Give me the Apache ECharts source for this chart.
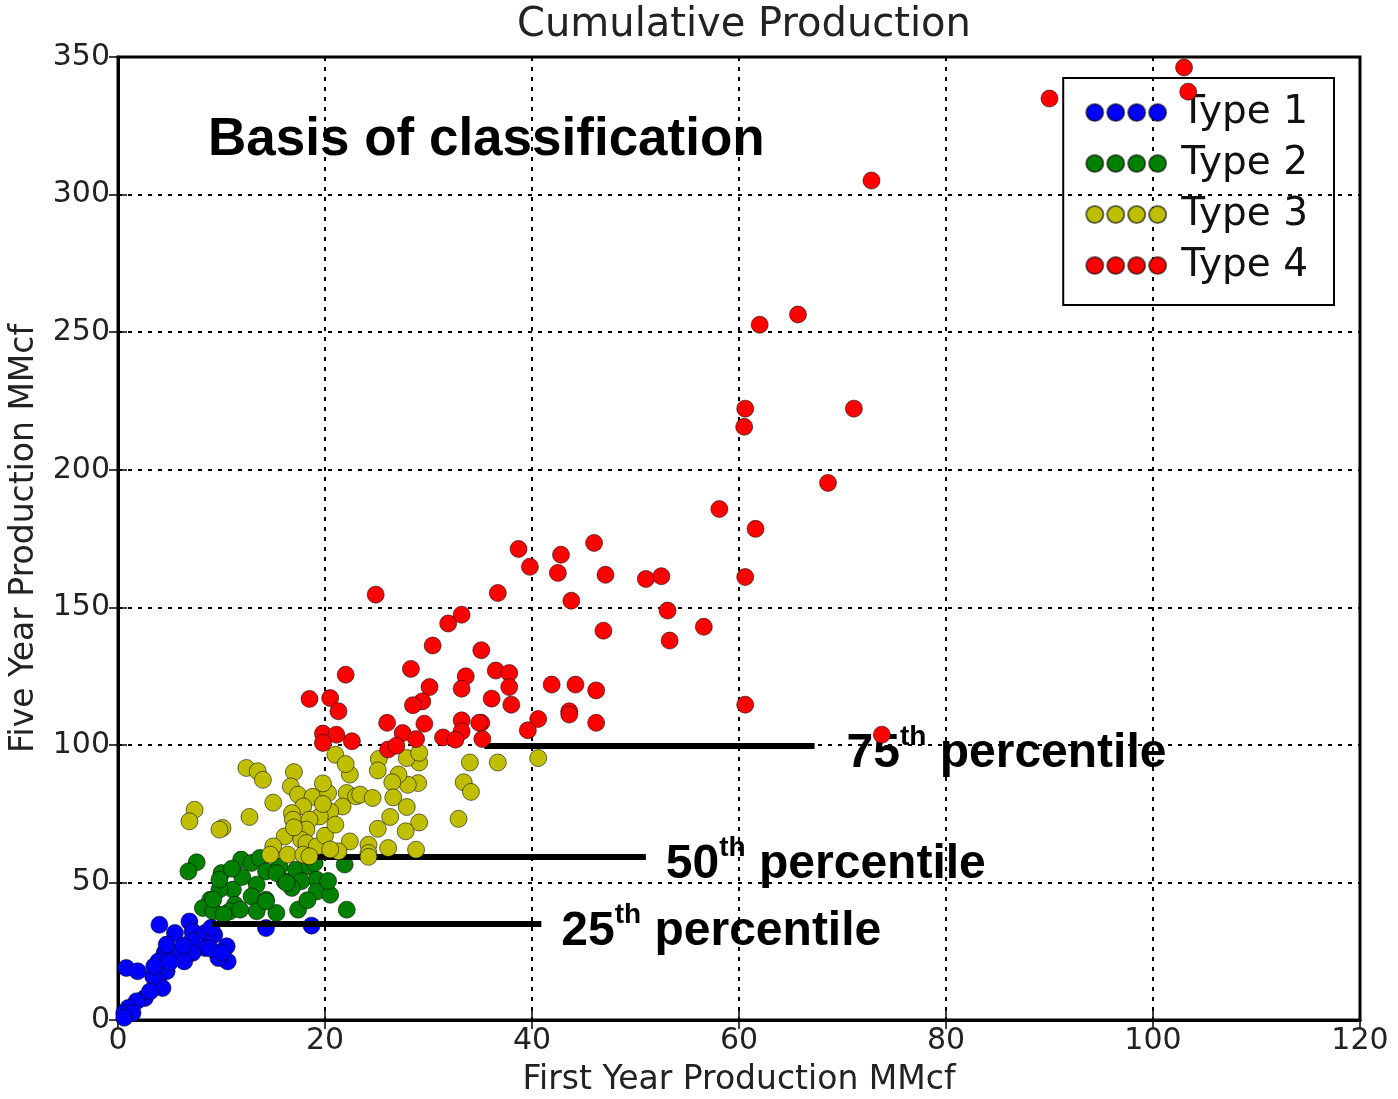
<!DOCTYPE html>
<html>
<head>
<meta charset="utf-8">
<title>Cumulative Production</title>
<script src="https://cdn.jsdelivr.net/npm/echarts@6/dist/echarts.min.js"></script>
<style>
  html, body { margin: 0; padding: 0; background: #fff; }
  #chart { width: 1398px; height: 1099px; }
</style>
</head>
<body>
<div id="chart"></div>
<script>
// [first year MMcf, five year MMcf] per well, grouped by type
const type1 = [
  [4.0,34.6],[5.5,31.6],[6.9,35.8],[7.2,32.2],[8.4,31.6],[9.3,31.0],[10.5,26.8],[10.6,21.3],
  [9.7,22.5],[8.4,26.2],[7.1,28.6],[5.8,24.4],[4.5,24.4],[7.2,24.4],[6.4,21.3],[4.7,17.7],
  [3.9,13.4],[4.3,11.6],[3.4,15.8],[4.7,27.4],[3.9,21.3],[0.8,18.9],[1.9,17.7],[2.6,8.0],
  [1.8,6.8],[1.0,4.4],[0.6,2.5],[1.4,2.5],[3.1,10.4],[3.5,19.5],[14.3,33.4],[18.7,34.3],
  [8.9,26.0],[6.3,27.0],[10.0,24.5],[0.6,0.8],[5.0,21.0],[9.0,33.5]
];
const type2 = [
  [7.6,57.3],[6.8,54.0],[10.0,53.4],[11.9,58.3],[12.9,57.1],[13.7,58.9],[14.3,54.0],[15.6,55.8],
  [17.2,54.6],[18.5,55.8],[19.2,51.0],[17.7,50.4],[16.1,50.4],[16.8,48.0],[19.2,46.7],[20.5,45.5],
  [21.9,56.5],[13.4,49.2],[11.1,47.4],[9.8,47.4],[8.9,43.7],[12.9,44.9],[11.3,41.9],[14.3,43.7],
  [8.2,40.7],[9.2,39.5],[10.8,39.5],[13.4,39.5],[15.3,38.9],[17.4,40.1],[22.1,40.1],[10.2,38.3],
  [19.0,57.1],[15.3,53.4],[12.0,52.0],[9.8,51.0],[16.3,49.8],[9.2,43.8],[11.8,40.1],[14.3,43.1],
  [18.3,43.5],[11.0,55.0],[20.3,50.5]
];
const type3 = [
  [21.0,96.4],[12.4,91.6],[13.5,90.4],[14.0,87.3],[17.0,90.1],[16.7,84.9],[17.4,81.9],[18.8,81.1],
  [20.3,82.5],[22.4,89.2],[22.1,82.5],[23.0,81.3],[21.7,77.6],[20.5,75.8],[19.5,74.0],[17.9,77.6],
  [16.8,75.2],[16.9,72.8],[18.5,72.8],[7.4,76.4],[6.9,72.2],[12.7,73.8],[10.1,69.8],[9.8,69.2],
  [18.2,69.2],[16.1,66.7],[17.7,65.5],[18.2,64.3],[19.2,63.1],[15.0,63.1],[16.4,60.1],[17.9,60.1],
  [14.7,60.1],[22.4,64.9],[21.3,61.3],[40.6,95.2],[36.7,93.6],[34.0,93.6],[33.4,86.4],[34.1,82.9],
  [32.9,73.1],[29.1,93.6],[27.9,95.2],[29.0,86.1],[28.0,85.5],[29.1,97.1],[25.2,94.9],[25.1,90.7],
  [27.1,89.2],[26.5,86.4],[26.6,80.9],[27.9,77.4],[26.3,73.8],[29.1,71.8],[27.8,68.6],[25.1,69.5],
  [23.4,81.9],[24.6,80.7],[24.2,63.7],[26.1,62.5],[28.8,61.9],[24.2,60.7],[19.8,86.0],[15.0,79.0],
  [20.0,67.0],[21.0,71.0],[17.0,70.0],[24.2,59.3],[18.5,59.5],[20.5,62.0],[19.8,78.5],[22.0,93.0]
];
const type4 = [
  [90.0,334.9],[103.0,346.2],[103.4,337.4],[72.8,305.1],[62.0,252.7],[65.7,256.4],[60.6,222.2],
  [60.5,215.6],[71.1,222.2],[68.6,195.2],[58.1,185.7],[61.6,178.5],[60.6,161.0],[60.6,114.6],
  [38.7,171.2],[39.8,164.7],[42.8,169.1],[42.5,162.5],[46.0,173.4],[47.1,161.8],[51.0,160.3],
  [52.5,161.3],[36.7,155.2],[43.8,152.4],[53.1,148.8],[46.9,141.5],[53.3,137.9],[56.6,142.9],
  [35.1,134.4],[36.5,127.0],[37.8,126.1],[37.8,121.0],[36.1,116.8],[38.0,114.6],[41.9,121.9],
  [44.2,121.9],[46.2,119.8],[43.6,112.2],[43.6,111.0],[46.2,108.0],[40.6,109.4],[39.6,105.3],
  [35.1,108.0],[73.8,103.7],[24.9,154.6],[33.2,147.3],[31.9,144.1],[30.4,136.1],[28.3,127.6],
  [22.0,125.5],[33.6,124.9],[33.2,120.4],[30.1,121.0],[18.5,116.7],[20.5,117.0],[21.3,112.2],
  [29.4,115.8],[28.5,114.4],[26.0,108.0],[29.6,107.7],[33.2,108.9],[34.9,108.0],[33.2,104.9],
  [19.8,104.1],[21.1,103.7],[22.6,101.3],[27.5,104.3],[28.8,102.1],[31.4,102.7],[32.6,101.9],
  [35.2,102.1],[26.1,98.3],[26.9,99.7],[19.8,100.7]
];

// percentile marker lines: [label rank, five-year value, x start, x end]
const percentiles = [
  ['25', 35.0, 9.1, 40.9],
  ['50', 59.4, 19.1, 51.0],
  ['75', 99.7, 35.4, 67.3]
];

const typeNames = ['Type 1', 'Type 2', 'Type 3', 'Type 4'];
const typeColors = ['#0000ff', '#008000', '#bfbf00', '#ff0000'];
const xTicks = { min: 0, max: 120, interval: 20 };
const yTicks = { min: 0, max: 350, interval: 50 };

const TICK_FONT = 'DejaVu Sans';
const NOTE_FONT = 'Liberation Sans';

// four dots in a row, used as the legend swatch
const fourDots = 'path://' + [0, 1, 2, 3].map(i => {
  const cx = i * 22 + 9;
  return `M${cx - 9},9a9,9 0 1,0 18,0a9,9 0 1,0 -18,0Z`;
}).join(' ');

const groups = [type1, type2, type3, type4];
const scatterSeries = groups.map((pts, i) => ({
  name: typeNames[i],
  type: 'scatter',
  data: pts,
  symbol: 'circle',
  symbolSize: 17,
  z: 3 + i,
  itemStyle: {
    color: typeColors[i],
    borderColor: 'rgba(0,0,0,0.55)',
    borderWidth: 1,
    opacity: 1
  },
  emphasis: { disabled: true }
}));

const noteRich = {
  n: { fontFamily: NOTE_FONT, fontWeight: 'bold', fontSize: 48, color: '#000', verticalAlign: 'bottom', lineHeight: 54 },
  s: { fontFamily: NOTE_FONT, fontWeight: 'bold', fontSize: 28, color: '#000', verticalAlign: 'top', lineHeight: 54, padding: [0, 0, 24, 0] }
};

const lineSeries = {
  name: 'percentiles',
  type: 'scatter',
  data: [],
  z: 10,
  silent: true,
  markLine: {
    silent: true,
    symbol: ['none', 'none'],
    animation: false,
    lineStyle: { color: '#000', width: 6, type: 'solid' },
    data: percentiles.map(p => [
      { coord: [p[2], p[1]] },
      {
        coord: [p[3], p[1]],
        label: {
          show: true,
          position: 'end',
          distance: p[0] === '75' ? 32 : 20,
          offset: [0, 5],
          formatter: `{n|${p[0]}}{s|th}{n| percentile}`,
          rich: noteRich
        }
      }
    ])
  }
};

const chart = echarts.init(document.getElementById('chart'), null, { renderer: 'canvas' });

chart.setOption({
  animation: false,
  backgroundColor: '#fff',
  title: [
    {
      text: 'Cumulative Production',
      left: 739, top: 1, textAlign: 'center',
      textStyle: { fontFamily: TICK_FONT, fontWeight: 'normal', fontSize: 40, color: '#222' }
    },
    {
      text: 'Basis of classification',
      left: 203, top: 109,
      textStyle: { fontFamily: NOTE_FONT, fontWeight: 'bold', fontSize: 53, color: '#000' }
    }
  ],
  legend: {
    data: typeNames,
    orient: 'vertical',
    right: 64, top: 78,
    backgroundColor: 'transparent',
    borderColor: '#000',
    borderWidth: 2,
    borderRadius: 0,
    padding: [12, 26, 17, 22],
    itemGap: 6,
    itemWidth: 80,
    itemHeight: 18,
    icon: fourDots,
    selectedMode: false,
    textStyle: { fontFamily: TICK_FONT, fontSize: 39, color: '#111', padding: [0, 0, 0, 10], lineHeight: 45 },
    z: 1
  },
  grid: {
    left: 118, right: 38, top: 57, bottom: 79,
    outerBoundsMode: 'none',
    containLabel: false,
    show: true, borderColor: '#000', borderWidth: 3, backgroundColor: '#fff'
  },
  xAxis: [
    {
      type: 'value', min: xTicks.min, max: xTicks.max, interval: xTicks.interval,
      name: 'First Year Production MMcf', nameLocation: 'middle', nameGap: 44,
      nameTextStyle: { fontFamily: TICK_FONT, fontSize: 33, color: '#222' },
      axisLine: { show: true, lineStyle: { color: '#000', width: 3 } },
      axisTick: { show: true, inside: true, length: 9, lineStyle: { color: '#000', width: 1.5 } },
      axisLabel: { fontFamily: TICK_FONT, fontSize: 30, color: '#222', margin: 6 },
      splitLine: { show: true, lineStyle: { color: '#000', width: 2, type: [4, 6] } }
    },
    {
      type: 'value', position: 'top', min: xTicks.min, max: xTicks.max, interval: xTicks.interval,
      axisLine: { show: false },
      axisTick: { show: true, inside: true, length: 9, lineStyle: { color: '#000', width: 1.5 } },
      axisLabel: { show: false }, splitLine: { show: false }
    }
  ],
  yAxis: [
    {
      type: 'value', min: yTicks.min, max: yTicks.max, interval: yTicks.interval,
      name: 'Five Year Production MMcf', nameLocation: 'middle', nameGap: 77,
      nameTextStyle: { fontFamily: TICK_FONT, fontSize: 33, color: '#222' },
      axisLine: { show: true, lineStyle: { color: '#000', width: 3 } },
      axisTick: { show: true, inside: true, length: 9, lineStyle: { color: '#000', width: 1.5 } },
      axisLabel: { fontFamily: TICK_FONT, fontSize: 30, color: '#222', margin: 8 },
      splitLine: { show: true, lineStyle: { color: '#000', width: 2, type: [4, 6] } }
    },
    {
      type: 'value', position: 'right', min: yTicks.min, max: yTicks.max, interval: yTicks.interval,
      axisLine: { show: false },
      axisTick: { show: true, inside: true, length: 9, lineStyle: { color: '#000', width: 1.5 } },
      axisLabel: { show: false }, splitLine: { show: false }
    }
  ],
  series: [...scatterSeries, lineSeries]
});
</script>
</body>
</html>
